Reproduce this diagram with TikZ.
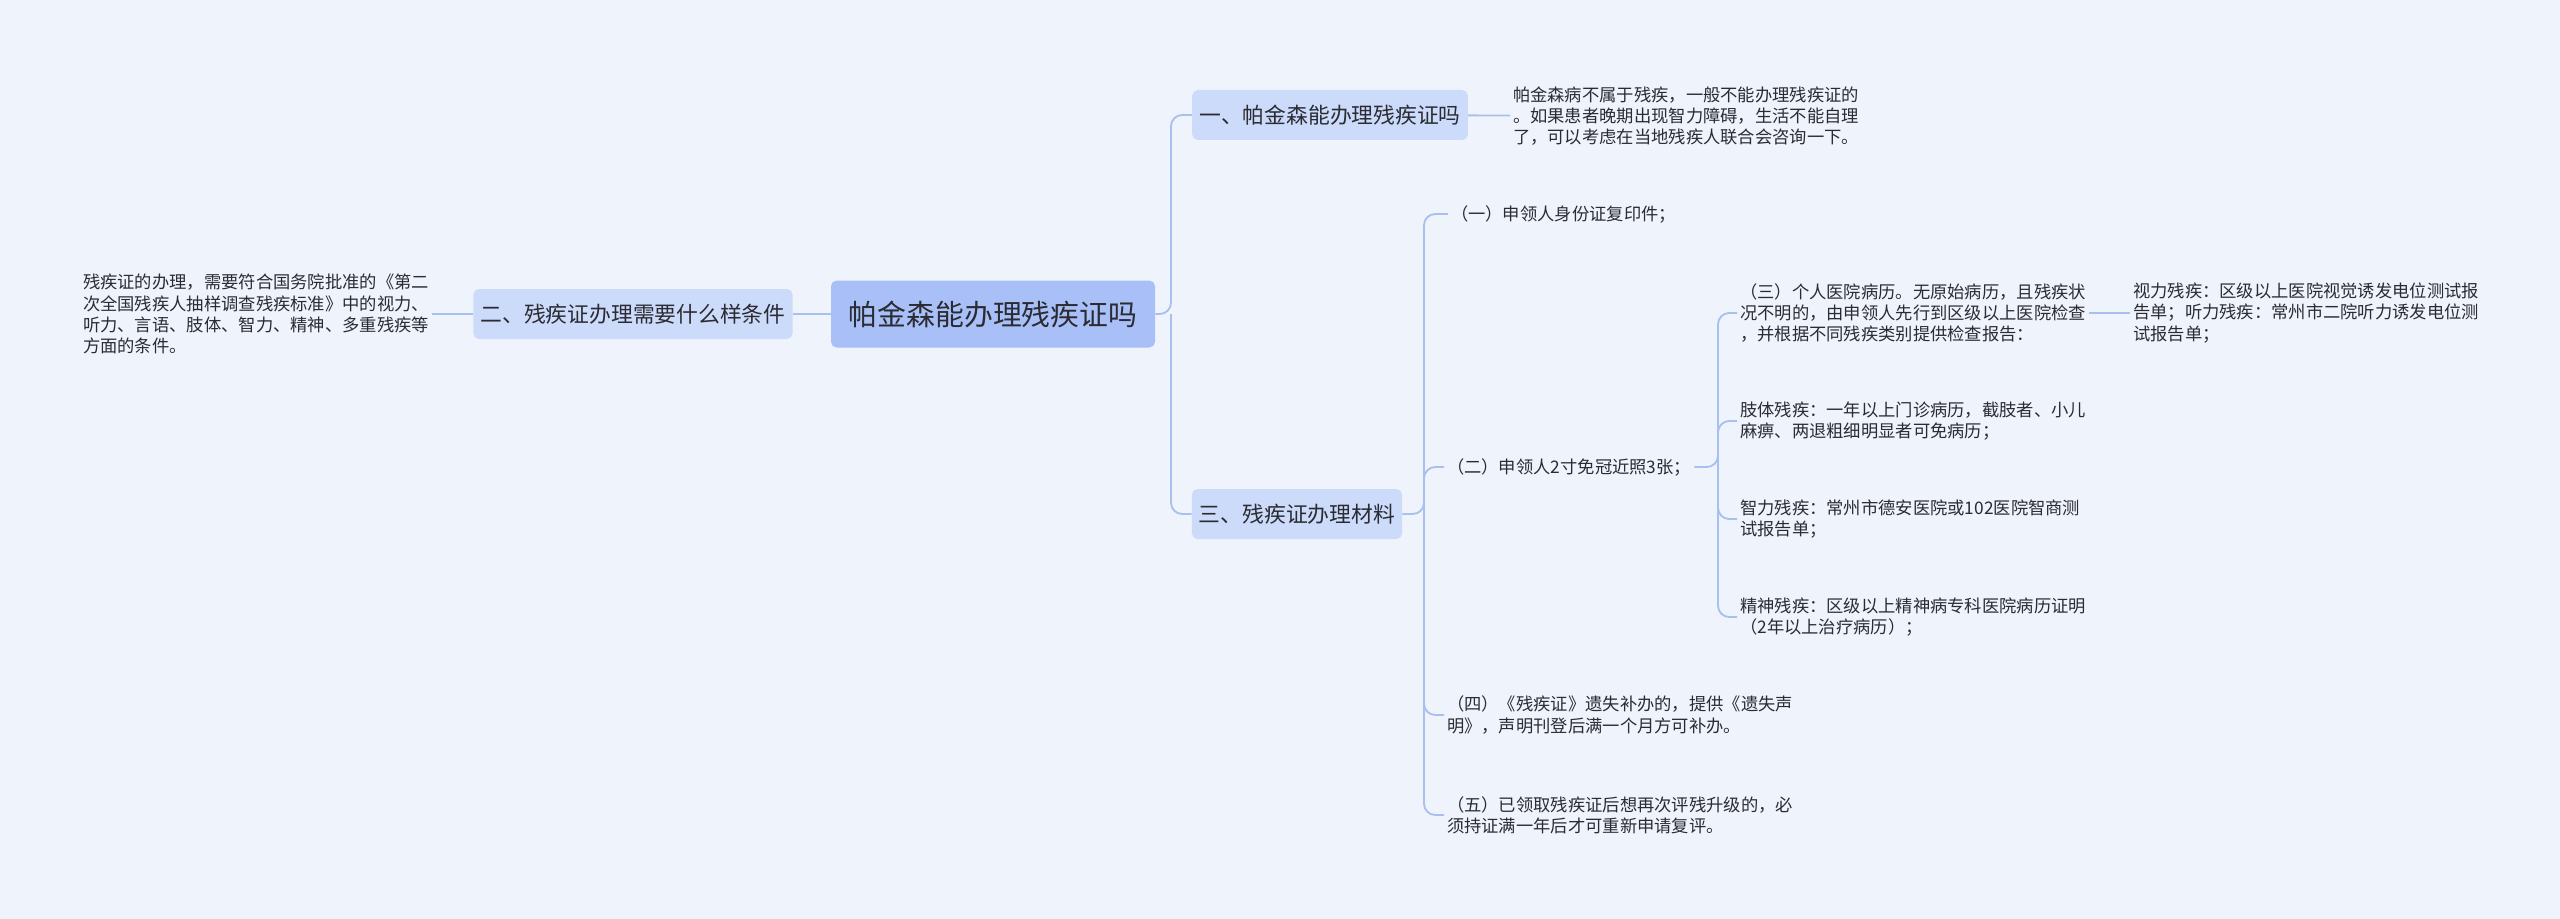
\documentclass[tikz,border=0pt]{standalone}
\usepackage{fontspec}
\setmainfont{Noto Sans CJK SC}
\usetikzlibrary{positioning}
\definecolor{bgcol}{HTML}{EEF3FC}
\definecolor{linecol}{HTML}{A9C0EE}
\definecolor{rootcol}{HTML}{A8C0F7}
\definecolor{subcol}{HTML}{CCDBFA}
\definecolor{txtcol}{HTML}{2B2B33}

\begin{document}
\begin{tikzpicture}[x=0.025cm, y=-0.025cm, text=txtcol]
	  \tikzstyle{root}=[rectangle,rounded corners=4pt,fill=rootcol,minimum width=324*0.025cm,
				  minimum height=67*0.025cm,font=\fontsize{20.5}{24}\selectfont]
	  \tikzstyle{topic}=[rectangle,rounded corners=4pt,fill=subcol,minimum height=50*0.025cm,
				  inner xsep=5pt,font=\fontsize{15.5}{19}\selectfont]
	  \tikzstyle{leaf}=[anchor=west,inner xsep=2pt,inner ysep=0pt,align=left,
				  font=\fontsize{12.3}{15}\selectfont]
	  \tikzstyle{link}=[draw=linecol,line width=1.3pt,rounded corners=8pt]

	\fill[bgcol] (0,0) rectangle (2560,919);
	\useasboundingbox (0,0) rectangle (2560,919);

	\node (center) [root] at (993,314) {帕金森能办理残疾证吗};
	\node (left_topic) [topic] at (633,314) {二、残疾证办理需要什么样条件};
	\node (left_text) [leaf] at (80,314) {残疾证的办理，需要符合国务院批准的《第二\\次全国残疾人抽样调查残疾标准》中的视力、\\听力、言语、肢体、智力、精神、多重残疾等\\方面的条件。};
	\node (top_topic) [topic] at (1330,115) {一、帕金森能办理残疾证吗};
	\node (top_text) [leaf] at (1510,116) {帕金森病不属于残疾，一般不能办理残疾证的\\。如果患者晚期出现智力障碍，生活不能自理\\了，可以考虑在当地残疾人联合会咨询一下。};
	\node (mid_topic) [topic] at (1297,514) {三、残疾证办理材料};

	\node (item_a) [leaf] at (1448,214) {（一）申领人身份证复印件；};
	\node (item_b) [leaf] at (1444,467) {（二）申领人2寸免冠近照3张；};
	\node (item_d) [leaf] at (1444,715) {（四）《残疾证》遗失补办的，提供《遗失声\\明》，声明刊登后满一个月方可补办。};
	\node (item_e) [leaf] at (1444,815) {（五）已领取残疾证后想再次评残升级的，必\\须持证满一年后才可重新申请复评。};

	\node (sub_c) [leaf] at (1737,313) {（三）个人医院病历。无原始病历，且残疾状\\况不明的，由申领人先行到区级以上医院检查\\，并根据不同残疾类别提供检查报告：};
	\node (sub_c+) [leaf] at (2130,313) {视力残疾：区级以上医院视觉诱发电位测试报\\告单；听力残疾：常州市二院听力诱发电位测\\试报告单；};
	\node (sub_limb) [leaf] at (1737,421) {肢体残疾：一年以上门诊病历，截肢者、小儿\\麻痹、两退粗细明显者可免病历；};
	\node (sub_mind) [leaf] at (1737,519) {智力残疾：常州市德安医院或102医院智商测\\试报告单；};
	\node (sub_psy) [leaf] at (1737,617) {精神残疾：区级以上精神病专科医院病历证明\\（2年以上治疗病历）；};

	\coordinate (bus_top) at (1171,314);
	\coordinate (bus_mid) at (1424,514);
	\coordinate (bus_sub) at (1718,467);

	\draw[link] (center) -- (left_topic) ;
	\draw[link] (left_topic) -- (left_text) ;
	\draw[link] (center.east) -- (bus_top) |- (top_topic.west) ;
	\draw[link] (bus_top) |- (mid_topic.west) ;
	\draw[link] (top_topic) -- (top_text) ;
	\draw[link] (mid_topic.east) -- (bus_mid) |- (item_a.west) ;
	\draw[link] (bus_mid) |- (item_b.west) ;
	\draw[link] (bus_mid) |- (item_d.west) ;
	\draw[link] (bus_mid) |- (item_e.west) ;
	\draw[link] (item_b.east) -- (bus_sub) |- (sub_c.west) ;
	\draw[link] (bus_sub) |- (sub_limb.west) ;
	\draw[link] (bus_sub) |- (sub_mind.west) ;
	\draw[link] (bus_sub) |- (sub_psy.west) ;
	\draw[link] (sub_c) -- (sub_c+) ;

\end{tikzpicture}
\end{document}
